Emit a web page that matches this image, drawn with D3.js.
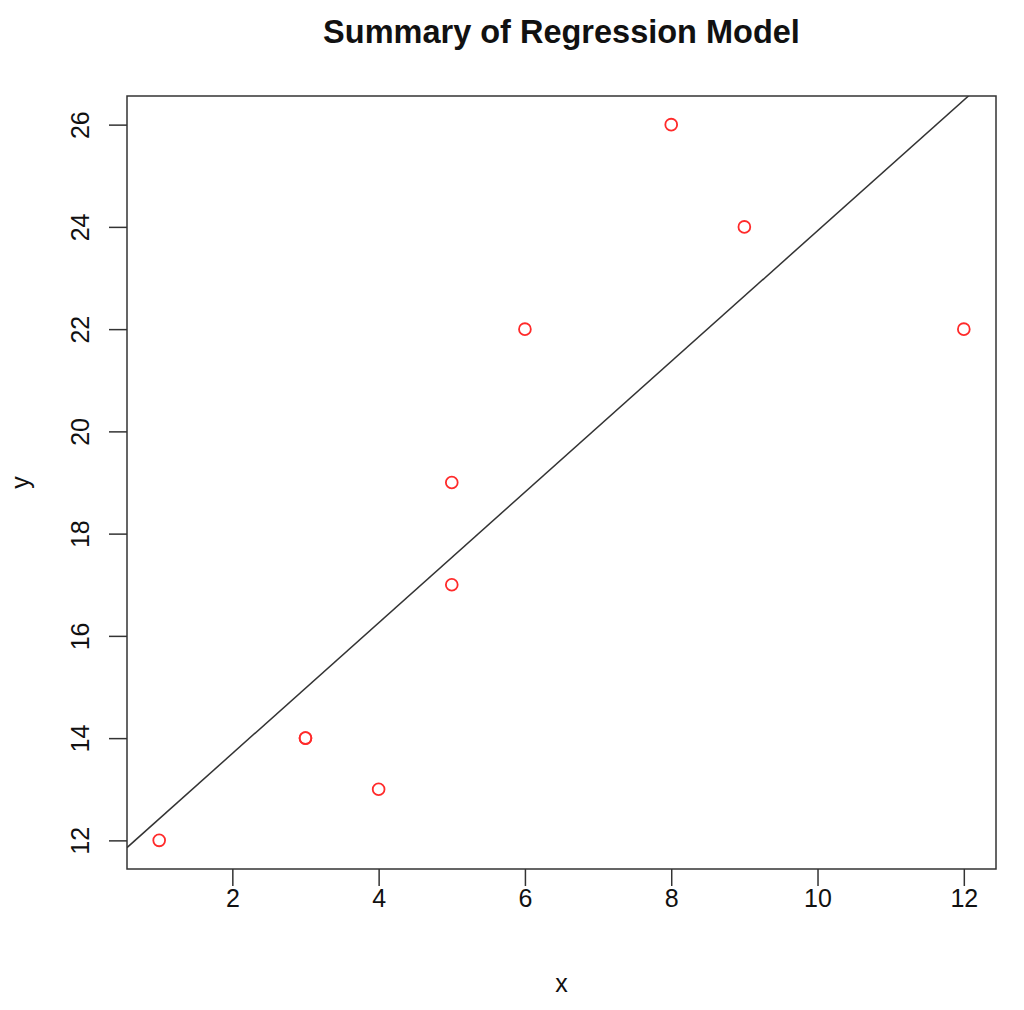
<!DOCTYPE html>
<html>
<head>
<meta charset="utf-8">
<script src="https://cdn.jsdelivr.net/npm/d3@7/dist/d3.min.js"></script>
<style>
  html, body { margin: 0; padding: 0; background: #fff; }
  svg text { font-family: "Liberation Sans", Arial, Helvetica, sans-serif; fill: #111; }
</style>
</head>
<body>
<div id="chart"></div>
<script>
// data
const xValues = [1, 3, 3, 4, 5, 5, 6, 8, 9, 12];
const yValues = [12, 14, 14, 13, 17, 19, 22, 26, 24, 22];
const xTicks = [2, 4, 6, 8, 10, 12];
const yTicks = [12, 14, 16, 18, 20, 22, 24, 26];
const chartTitle = "Summary of Regression Model";
const xLabel = "x";
const yLabel = "y";

const width = 1024, height = 1010;
const box = { left: 127, right: 996, top: 96, bottom: 869 };

const svg = d3.select("#chart").append("svg")
  .attr("width", width)
  .attr("height", height);

// R style 4% padding on the data range
function padded(vals) {
  const lo = d3.min(vals), hi = d3.max(vals), d = (hi - lo) * 0.04;
  return [lo - d, hi + d];
}

const x = d3.scaleLinear().domain(padded(xValues)).range([box.left, box.right]);
const y = d3.scaleLinear().domain(padded(yValues)).range([box.bottom, box.top]);

// least squares fit, like lm(y ~ x)
const points = xValues.map((v, i) => ({ x: v, y: yValues[i] }));
const mx = d3.mean(xValues), my = d3.mean(yValues);
const sxy = d3.sum(points, d => (d.x - mx) * (d.y - my));
const sxx = d3.sum(points, d => (d.x - mx) * (d.x - mx));
const slope = sxy / sxx;
const intercept = my - slope * mx;

svg.append("clipPath").attr("id", "plotClip")
  .append("rect")
  .attr("x", box.left).attr("y", box.top)
  .attr("width", box.right - box.left).attr("height", box.bottom - box.top);

// title
svg.append("text")
  .attr("x", (box.left + box.right) / 2)
  .attr("y", 43)
  .attr("text-anchor", "middle")
  .style("font-size", "32.5px")
  .style("font-weight", "bold")
  .text(chartTitle);

// axes
const xAxis = svg.append("g")
  .attr("transform", `translate(0,${box.bottom})`)
  .call(d3.axisBottom(x).tickValues(xTicks).tickSize(17).tickSizeOuter(0).tickPadding(20));
const yAxis = svg.append("g")
  .attr("transform", `translate(${box.left},0)`)
  .call(d3.axisLeft(y).tickValues(yTicks).tickSize(18).tickSizeOuter(0));

[xAxis, yAxis].forEach(g => {
  g.select(".domain").remove();
  g.selectAll(".tick line").attr("stroke", "#333").attr("stroke-width", 1.5);
  g.selectAll(".tick text").style("font-size", "25px").attr("fill", "#111");
});

xAxis.selectAll(".tick text").attr("y", 20).attr("dy", "0.71em");
yAxis.selectAll(".tick text")
  .attr("x", null).attr("dy", null)
  .attr("text-anchor", "middle")
  .attr("transform", "translate(-38,0) rotate(-90)")
  .attr("y", 0);

// box
svg.append("rect")
  .attr("x", box.left).attr("y", box.top)
  .attr("width", box.right - box.left).attr("height", box.bottom - box.top)
  .attr("fill", "none")
  .attr("stroke", "#333")
  .attr("stroke-width", 1.5);

// regression line
const [x0, x1] = x.domain();
svg.append("line")
  .attr("clip-path", "url(#plotClip)")
  .attr("x1", x(x0)).attr("y1", y(intercept + slope * x0))
  .attr("x2", x(x1)).attr("y2", y(intercept + slope * x1))
  .attr("stroke", "#333")
  .attr("stroke-width", 1.5);

// points
svg.append("g").selectAll("circle")
  .data(points)
  .enter().append("circle")
  .attr("cx", d => x(d.x))
  .attr("cy", d => y(d.y))
  .attr("r", 5.9)
  .attr("fill", "none")
  .attr("stroke", "#ff2a2a")
  .attr("stroke-width", 1.8);

// axis titles
svg.append("text")
  .attr("x", (box.left + box.right) / 2)
  .attr("y", 983)
  .attr("dy", "0.35em")
  .attr("text-anchor", "middle")
  .style("font-size", "25px")
  .text(xLabel);

svg.append("text")
  .attr("transform", `translate(20,${(box.top + box.bottom) / 2}) rotate(-90)`)
  .attr("dy", "0.35em")
  .attr("text-anchor", "middle")
  .style("font-size", "25px")
  .text(yLabel);
</script>
</body>
</html>
